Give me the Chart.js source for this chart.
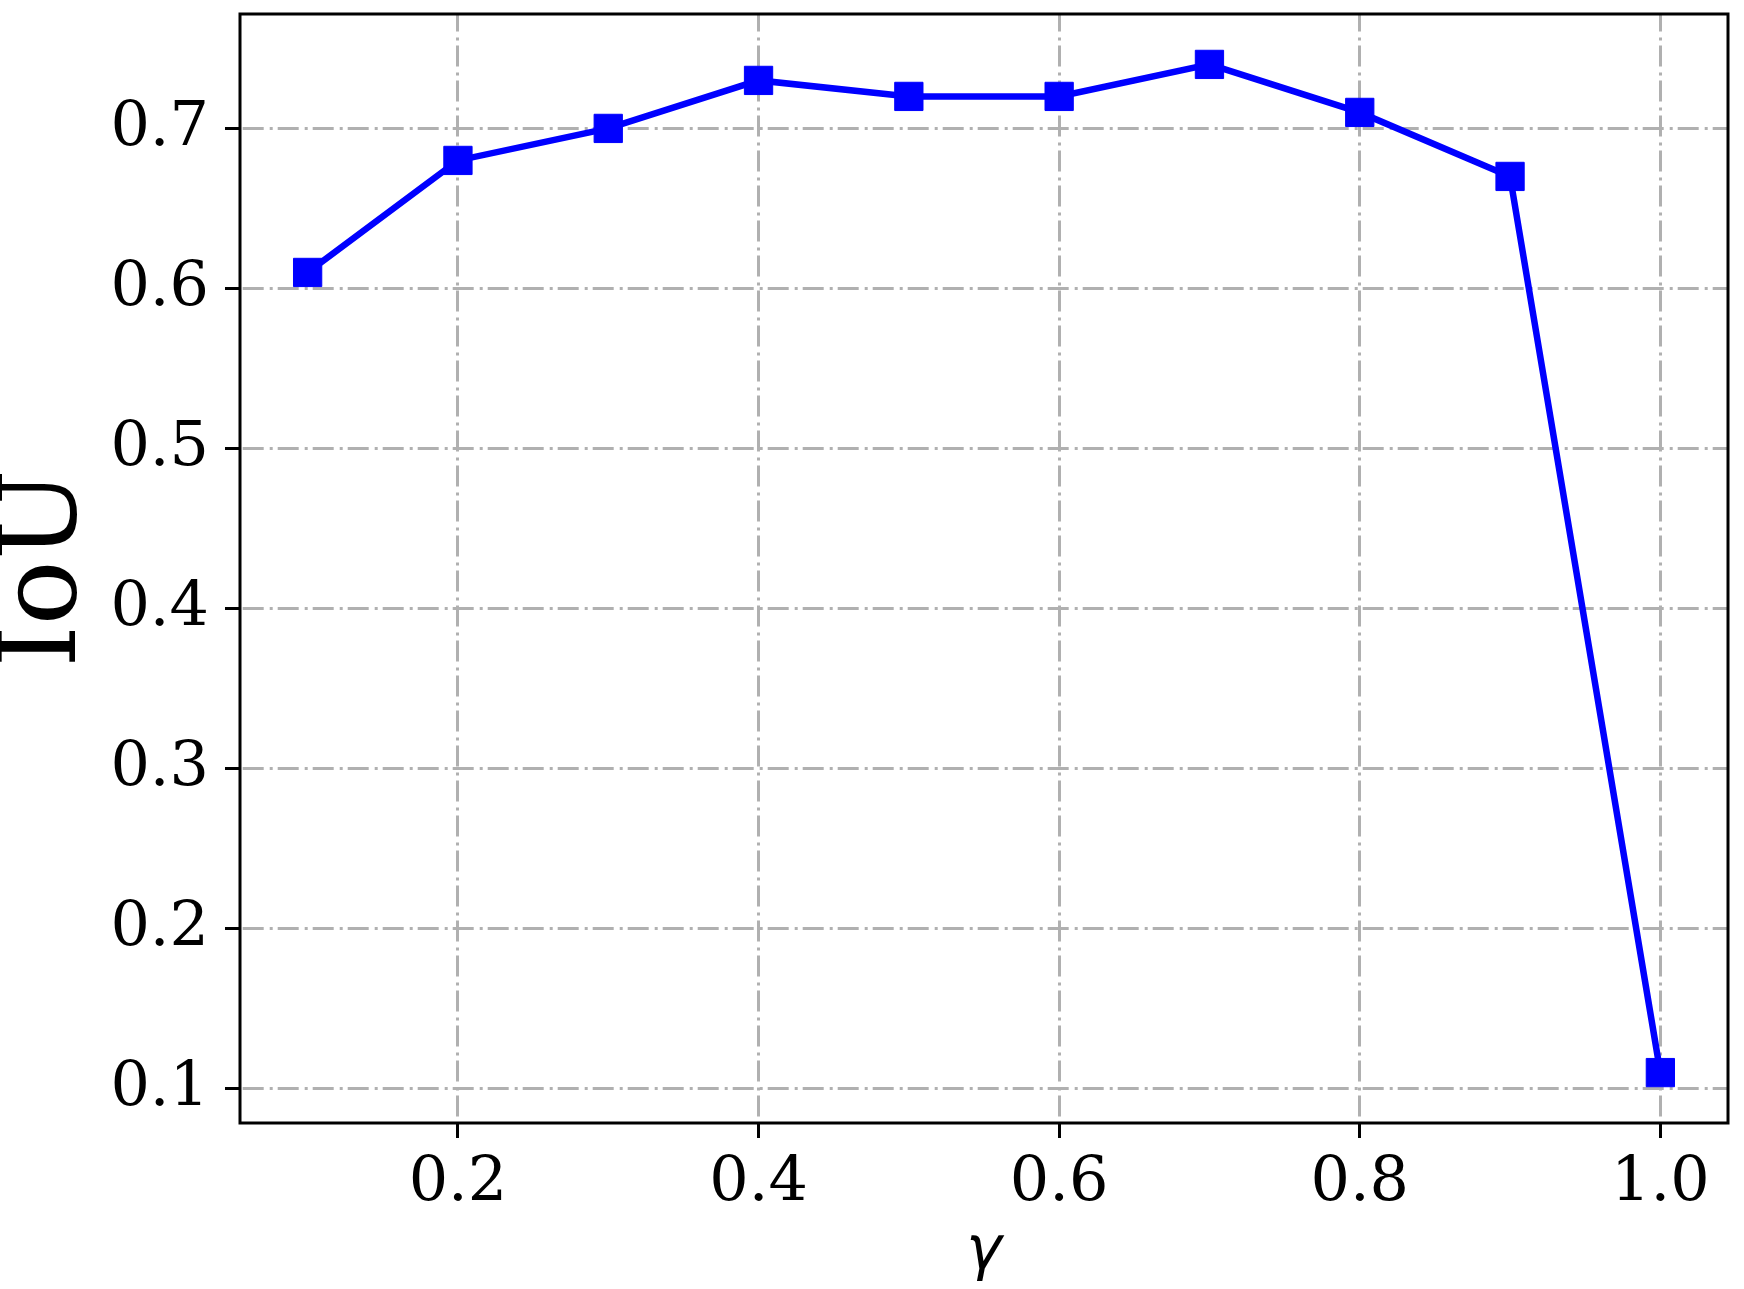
<!DOCTYPE html>
<html>
<head>
<meta charset="utf-8">
<script src="https://cdn.jsdelivr.net/npm/chart.js@4/dist/chart.umd.min.js"></script>
<style>
  html, body { margin: 0; padding: 0; background: #ffffff; }
  #wrap { width: 1744px; height: 1289px; }
</style>
</head>
<body>
<div id="wrap"><canvas id="c" width="1744" height="1289"></canvas></div>
<script>
const gammaValues = [0.1, 0.2, 0.3, 0.4, 0.5, 0.6, 0.7, 0.8, 0.9, 1.0];
const iouValues = [0.61, 0.68, 0.70, 0.73, 0.72, 0.72, 0.74, 0.71, 0.67, 0.11];
const xTickValues = [0.2, 0.4, 0.6, 0.8, 1.0];
const yTickValues = [0.1, 0.2, 0.3, 0.4, 0.5, 0.6, 0.7];
const xLabel = 'γ';
const yLabel = 'IoU';

const points = gammaValues.map((g, i) => ({ x: g, y: iouValues[i] }));

const framePlugin = {
  id: 'frame',
  afterDraw(chart) {
    const { ctx, chartArea: a } = chart;
    ctx.save();
    ctx.strokeStyle = '#000000';
    ctx.lineWidth = 3;
    ctx.strokeRect(a.left, a.top, a.right - a.left, a.bottom - a.top);
    ctx.restore();
  }
};

const gridCommon = {
  color: '#b0b0b0',
  lineWidth: 3,
  drawTicks: true,
  tickLength: 15,
  tickColor: '#000000',
  tickWidth: 3,
  tickBorderDash: []
};

new Chart(document.getElementById('c'), {
  type: 'line',
  data: {
    datasets: [{
      data: points,
      borderColor: '#0000ff',
      backgroundColor: '#0000ff',
      borderWidth: 6.5,
      pointStyle: 'rect',
      pointRadius: 20,
      pointBorderWidth: 1,
      pointBorderColor: '#0000ff',
      pointBackgroundColor: '#0000ff',
      tension: 0,
      fill: false
    }]
  },
  options: {
    responsive: false,
    animation: false,
    devicePixelRatio: 1,
    layout: { autoPadding: false, padding: { top: 14, right: 16, left: 0, bottom: 0 } },
    plugins: { legend: { display: false }, tooltip: { enabled: false } },
    scales: {
      x: {
        type: 'linear',
        position: 'bottom',
        min: 0.055,
        max: 1.045,
        afterBuildTicks: (s) => { s.ticks = xTickValues.map(v => ({ value: v })); },
        afterFit: (s) => { s.height = 166; s.paddingLeft = 0; s.paddingRight = 0; s.paddingTop = 0; s.paddingBottom = 0; },
        ticks: {
          color: '#000000',
          padding: 9,
          maxRotation: 0,
          autoSkip: false,
          font: { family: 'DejaVu Serif', size: 62, lineHeight: 1.2 },
          callback: (v) => Number(v).toFixed(1)
        },
        grid: gridCommon,
        border: { display: false, dash: [21, 6, 3, 5], dashOffset: 3.5 },
        title: {
          display: true,
          text: xLabel,
          color: '#000000',
          font: { family: 'DejaVu Sans', style: 'italic', size: 60, lineHeight: 1 },
          padding: { top: 0, bottom: 7 }
        }
      },
      y: {
        type: 'linear',
        position: 'left',
        min: 0.0785,
        max: 0.7715,
        afterBuildTicks: (s) => { s.ticks = yTickValues.map(v => ({ value: v })); },
        afterFit: (s) => { s.width = 240; s.paddingLeft = 0; s.paddingRight = 0; s.paddingTop = 0; s.paddingBottom = 0; },
        ticks: {
          color: '#000000',
          padding: 16,
          autoSkip: false,
          font: { family: 'DejaVu Serif', size: 62, lineHeight: 1.2 },
          callback: (v) => Number(v).toFixed(1)
        },
        grid: gridCommon,
        border: { display: false, dash: [21, 6, 3, 5], dashOffset: 32.3 },
        title: {
          display: true,
          text: yLabel,
          color: '#000000',
          font: { family: 'DejaVu Serif', size: 108, lineHeight: 0.87 },
          padding: { top: 0, bottom: 0 }
        }
      }
    }
  },
  plugins: [framePlugin]
});
</script>
</body>
</html>
